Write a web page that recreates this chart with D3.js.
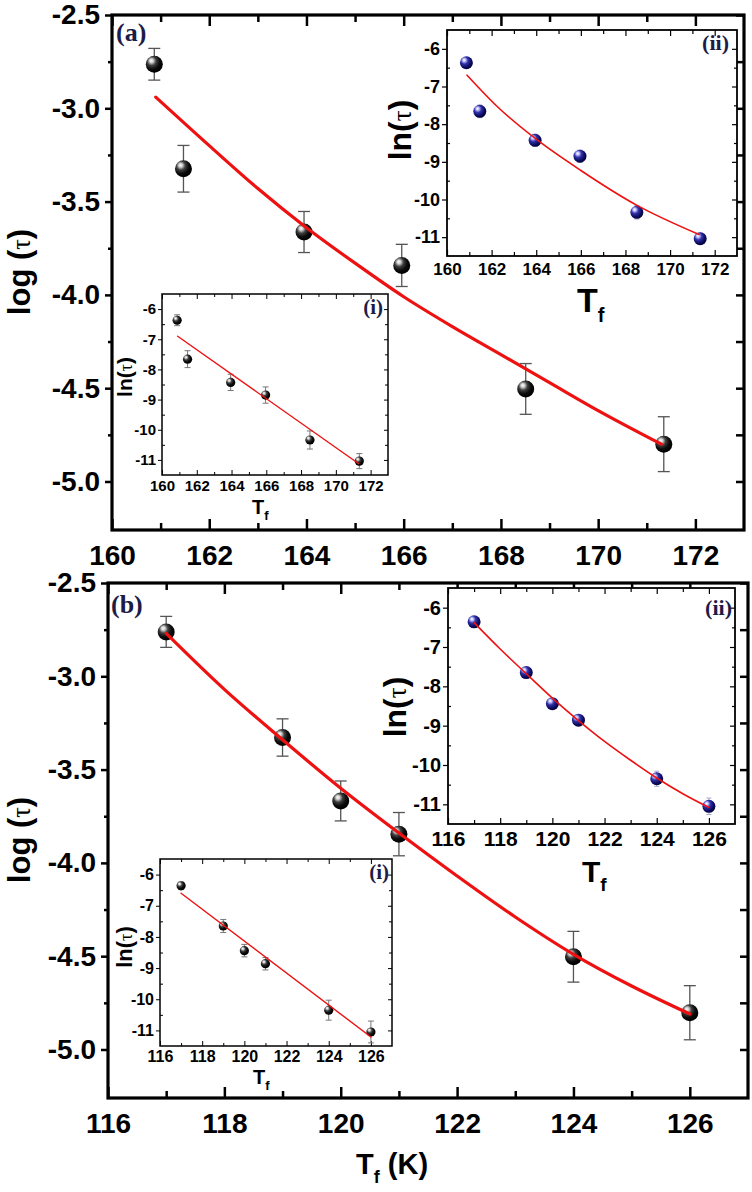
<!DOCTYPE html>
<html>
<head>
<meta charset="utf-8">
<script src="https://cdn.jsdelivr.net/npm/d3@7"></script>
<style>
  body { margin: 0; background: #fff; }
  svg { display: block; font-family: "Liberation Sans", Arial, sans-serif; }
</style>
</head>
<body>
<div class="d3_content"></div>
<script>
// ---------- data ----------
// panel (a)
const tfA      = [160.87, 161.47, 163.95, 165.96, 168.51, 171.35];
const logTauA  = [-2.764, -3.324, -3.663, -3.842, -4.504, -4.800];
const logErrA  = [0.085, 0.125, 0.11, 0.113, 0.136, 0.147];
const lnTauA   = [-6.37, -7.66, -8.43, -8.85, -10.34, -11.04];
const lnErrA   = [0.18, 0.28, 0.27, 0.27, 0.30, 0.25];
// fitted curves (a)
const fitMainA_T = [160.9, 162, 163, 164, 165, 166, 167, 168, 169, 170, 171.3];
const fitMainA_Y = [-2.94, -3.20, -3.43, -3.64, -3.83, -4.01, -4.17, -4.32, -4.47, -4.62, -4.80];
const fitLinA_T  = [160.9, 171.3];
const fitLinA_Y  = [-6.90, -11.12];
const fitLnA_T   = [160.9, 162.25, 164, 166, 168.5, 171.3];
const fitLnA_Y   = [-6.70, -7.53, -8.40, -9.23, -10.15, -10.93];

// panel (b)
const tfB      = [117, 119, 120, 121, 124, 126];
const logTauB  = [-2.762, -3.328, -3.668, -3.846, -4.503, -4.803];
const logErrB  = [0.083, 0.10, 0.107, 0.116, 0.136, 0.145];
const lnTauB   = [-6.36, -7.65, -8.44, -8.86, -10.35, -11.05];
const lnErrB   = [0.12, 0.21, 0.20, 0.20, 0.32, 0.35];
// fitted curves (b)
const fitMainB_T = [117, 118, 119, 120, 121, 122, 123, 124, 125, 126];
const fitMainB_Y = [-2.77, -3.07, -3.34, -3.60, -3.84, -4.07, -4.29, -4.49, -4.66, -4.81];
const fitLinB_T  = [117, 126];
const fitLinB_Y  = [-6.60, -11.21];
const fitLnB_T   = [117, 118, 119, 120, 121, 122, 123, 124, 125, 126];
const fitLnB_Y   = [-6.38, -7.05, -7.68, -8.30, -8.87, -9.40, -9.88, -10.33, -10.73, -11.08];

// tick labels
const xTicksA   = [160, 162, 164, 166, 168, 170, 172];
const xTicksB   = [116, 118, 120, 122, 124, 126];
const logTicks  = [-2.5, -3.0, -3.5, -4.0, -4.5, -5.0];
const lnTicks   = [-6, -7, -8, -9, -10, -11];

// ---------- layout ----------
const W = 752, H = 1192;
const logDomain = [-5.26, -2.5];
const lnDomain = [-11.5, -5.5];

const svg = d3.select(".d3_content").append("svg")
  .attr("width", W).attr("height", H);

const defs = svg.append("defs");
function ballGradient(id, stops) {
  const g = defs.append("radialGradient").attr("id", id)
    .attr("cx", "0.38").attr("cy", "0.36").attr("r", "0.62")
    .attr("fx", "0.32").attr("fy", "0.28");
  stops.forEach(s => g.append("stop").attr("offset", s[0]).attr("stop-color", s[1]));
}
ballGradient("ballK", [[0, "#ffffff"], [0.18, "#d0d0d0"], [0.42, "#404040"], [0.72, "#0c0c0c"], [1, "#000"]]);
ballGradient("ballB", [[0, "#ffffff"], [0.18, "#c4c4ff"], [0.45, "#3232a8"], [0.8, "#0c0c66"], [1, "#05053c"]]);

const noLabel = () => "";

// generic tick drawer
function addAxis(g, gen, vals, size, pad, fmt, fs, weight) {
  const a = g.append("g").call(gen.tickValues(vals).tickSize(size).tickPadding(pad).tickFormat(fmt));
  a.select(".domain").remove();
  a.selectAll("line").attr("stroke", "#000");
  a.selectAll("text").attr("fill", "#000").attr("font-size", fs)
    .attr("font-weight", weight || "bold")
    .attr("font-family", '"Liberation Sans", Arial, sans-serif');
  return a;
}

function frameAxes(box, x, y, o) {
  const g = svg.append("g");
  const bx = g.append("g").attr("transform", `translate(0,${box.b})`);
  addAxis(bx, d3.axisBottom(x), o.xMajor, -o.tMaj, o.xPad, o.xFmt, o.xFs).selectAll("line").attr("stroke-width", o.tw);
  addAxis(bx, d3.axisBottom(x), o.xMinor, -o.tMin, 0, noLabel, 1).selectAll("line").attr("stroke-width", o.tw);
  const tx = g.append("g").attr("transform", `translate(0,${box.t})`);
  addAxis(tx, d3.axisTop(x), o.xMajor, -o.tMaj, 0, noLabel, 1).selectAll("line").attr("stroke-width", o.tw);
  addAxis(tx, d3.axisTop(x), o.xMinor, -o.tMin, 0, noLabel, 1).selectAll("line").attr("stroke-width", o.tw);
  const ly = g.append("g").attr("transform", `translate(${box.l},0)`);
  addAxis(ly, d3.axisLeft(y), o.yMajor, o.lMaj, o.yPad, o.yFmt, o.yFs).selectAll("line").attr("stroke-width", o.tw);
  addAxis(ly, d3.axisLeft(y), o.yMinor, o.lMin, 0, noLabel, 1).selectAll("line").attr("stroke-width", o.tw);
  const ry = g.append("g").attr("transform", `translate(${box.r},0)`);
  addAxis(ry, d3.axisRight(y), o.yMajor, -o.rMaj, 0, noLabel, 1).selectAll("line").attr("stroke-width", o.tw);
  addAxis(ry, d3.axisRight(y), o.yMinor, -o.rMin, 0, noLabel, 1).selectAll("line").attr("stroke-width", o.tw);
  g.append("rect")
    .attr("x", box.l).attr("y", box.t)
    .attr("width", box.r - box.l).attr("height", box.b - box.t)
    .attr("fill", "none").attr("stroke", "#000").attr("stroke-width", o.fw);
}

function drawPoints(x, y, T, V, E, o) {
  const g = svg.append("g");
  const pts = d3.zip(T, V, E);
  g.selectAll("line.err").data(pts).join("line")
    .attr("x1", d => x(d[0])).attr("x2", d => x(d[0]))
    .attr("y1", d => y(d[1] + d[2])).attr("y2", d => y(d[1] - d[2]))
    .attr("stroke", o.errColor).attr("stroke-width", o.errW);
  [1, -1].forEach(s => {
    g.selectAll("line.cap" + s).data(pts).join("line")
      .attr("x1", d => x(d[0]) - o.cap).attr("x2", d => x(d[0]) + o.cap)
      .attr("y1", d => y(d[1] + s * d[2])).attr("y2", d => y(d[1] + s * d[2]))
      .attr("stroke", o.errColor).attr("stroke-width", o.errW);
  });
  g.selectAll("circle").data(pts).join("circle")
    .attr("cx", d => x(d[0])).attr("cy", d => y(d[1]))
    .attr("r", o.r).attr("fill", o.fill);
}

function drawFit(x, y, T, V, w, curve) {
  svg.append("path")
    .datum(d3.zip(T, V))
    .attr("d", d3.line().x(d => x(d[0])).y(d => y(d[1])).curve(curve))
    .attr("fill", "none").attr("stroke", "#ee1111").attr("stroke-width", w)
    .attr("stroke-linecap", "round");
}

function rotLabel(tx, ty, fs, txt) {
  const t = svg.append("text")
    .attr("transform", `translate(${tx},${ty}) rotate(-90)`)
    .attr("text-anchor", "middle").attr("font-size", fs).attr("font-weight", "bold");
  t.append("tspan").text(txt);
  t.append("tspan").attr("font-family", '"Liberation Serif", serif').attr("font-weight", "normal").attr("font-size", fs * 0.85).text("\u03c4");
  t.append("tspan").text(")");
}

function tfLabel(x0, yb, fs, fsSub, extra) {
  const t = svg.append("text").attr("x", x0).attr("y", yb)
    .attr("font-size", fs).attr("font-weight", "bold");
  t.append("tspan").text("T");
  t.append("tspan").attr("font-size", fsSub).attr("dy", fs * 0.3).text("f");
  if (extra) t.append("tspan").attr("dy", -fs * 0.3).text(extra);
}

function tag(x0, yb, fs, txt, anchor) {
  svg.append("text").attr("x", x0).attr("y", yb)
    .attr("text-anchor", anchor || "start")
    .attr("font-family", '"Liberation Serif", "Times New Roman", serif')
    .attr("font-weight", "bold").attr("font-size", fs).attr("fill", "#1c1c48")
    .text(txt);
}

const fmt1 = d => d.toFixed(1);
const fmt0 = d => String(d);

function panel(p) {
  // main plot
  const x = d3.scaleLinear(p.xDomain, [p.main.l, p.main.r]);
  const y = d3.scaleLinear(logDomain, [p.main.b, p.main.t]);
  frameAxes(p.main, x, y, {
    xMajor: p.xTicks, xMinor: d3.range(p.xTicks[0] + 1, p.xDomain[1], 2),
    yMajor: logTicks, yMinor: d3.range(-2.75, -5.1, -0.5),
    tMaj: 11, tMin: 7, lMaj: 7, lMin: 4, rMaj: 8, rMin: 8,
    xPad: 15, yPad: 5, xFmt: fmt0, yFmt: fmt1, xFs: 28, yFs: 28, tw: 2.5, fw: 3.2
  });
  drawPoints(x, y, p.T, p.logTau, p.logErr, { errColor: "#555", errW: 1.3, cap: 6, r: 8.5, fill: "url(#ballK)" });
  drawFit(x, y, p.fitMainT, p.fitMainY, 3.2, d3.curveMonotoneX);

  // inset (i): linear fit
  const bi = p.inI;
  svg.append("rect").attr("x", bi.l).attr("y", bi.t).attr("width", bi.r - bi.l).attr("height", bi.b - bi.t).attr("fill", "#fff");
  const xi = d3.scaleLinear(p.xDomain, [bi.l, bi.r]);
  const yi = d3.scaleLinear(lnDomain, [bi.b, bi.t]);
  frameAxes(bi, xi, yi, {
    xMajor: p.xTicks, xMinor: d3.range(p.xTicks[0] + 1, p.xDomain[1], 2),
    yMajor: lnTicks, yMinor: d3.range(-6.5, -11.4, -1),
    tMaj: 5, tMin: 3, lMaj: 4, lMin: -3, rMaj: 4, rMin: 3,
    xPad: 5, yPad: 2, xFmt: fmt0, yFmt: fmt0, xFs: p.fsI, yFs: p.fsI, tw: 1, fw: 1.5
  });
  drawPoints(xi, yi, p.T, p.lnTau, p.lnErrI, { errColor: "#777", errW: 1, cap: 3, r: 4.6, fill: "url(#ballK)" });
  drawFit(xi, yi, p.fitLinT, p.fitLinY, 1.4, d3.curveLinear);

  // inset (ii): curved fit
  const bj = p.inII;
  svg.append("rect").attr("x", bj.l).attr("y", bj.t).attr("width", bj.r - bj.l).attr("height", bj.b - bj.t).attr("fill", "#fff");
  const xj = d3.scaleLinear(p.xDomain, [bj.l, bj.r]);
  const yj = d3.scaleLinear(lnDomain, [bj.b, bj.t]);
  frameAxes(bj, xj, yj, {
    xMajor: p.xTicks, xMinor: d3.range(p.xTicks[0] + 1, p.xDomain[1], 2),
    yMajor: lnTicks, yMinor: d3.range(-6.5, -11.4, -1),
    tMaj: 6, tMin: 4, lMaj: 5, lMin: -3, rMaj: 5, rMin: 3,
    xPad: 7, yPad: 2, xFmt: fmt0, yFmt: fmt0, xFs: p.fsIIx, yFs: p.fsIIy, tw: 1.2, fw: 1.8
  });
  drawPoints(xj, yj, p.T, p.lnTau, p.lnErrII, { errColor: "#a8a8cc", errW: 1, cap: 2.5, r: 6.5, fill: "url(#ballB)" });
  drawFit(xj, yj, p.fitLnT, p.fitLnY, 1.6, d3.curveMonotoneX);
}

const panelA = {
  xDomain: [160, 173], xTicks: xTicksA,
  main: { l: 112, r: 744, t: 15, b: 530 },
  inI: { l: 162, r: 388, t: 294, b: 475 },
  inII: { l: 447, r: 737, t: 30, b: 256 },
  T: tfA, logTau: logTauA, logErr: logErrA, lnTau: lnTauA, lnErrI: lnErrA, lnErrII: lnErrA.map(e => e * 0.6),
  fitMainT: fitMainA_T, fitMainY: fitMainA_Y,
  fitLinT: fitLinA_T, fitLinY: fitLinA_Y,
  fitLnT: fitLnA_T, fitLnY: fitLnA_Y,
  fsI: 15, fsIIx: 17, fsIIy: 18
};
const panelB = {
  xDomain: [116, 127], xTicks: xTicksB,
  main: { l: 108, r: 748, t: 583, b: 1098 },
  inI: { l: 160, r: 392, t: 859, b: 1046 },
  inII: { l: 448, r: 735, t: 588, b: 824 },
  T: tfB, logTau: logTauB, logErr: logErrB, lnTau: lnTauB, lnErrI: lnErrB, lnErrII: lnErrB.map(e => e * 0.6),
  fitMainT: fitMainB_T, fitMainY: fitMainB_Y,
  fitLinT: fitLinB_T, fitLinY: fitLinB_Y,
  fitLnT: fitLnB_T, fitLnY: fitLnB_Y,
  fsI: 16, fsIIx: 21, fsIIy: 20
};

panel(panelA);
panel(panelB);

// axis titles
rotLabel(30, 272, 31, "log (");
rotLabel(30, 840, 31, "log (");
rotLabel(411, 130, 32, "ln(");
rotLabel(406, 707, 32, "ln(");
rotLabel(132, 377, 21, "ln(");
rotLabel(132, 947, 22, "ln(");

tfLabel(577, 312, 34, 20);
tfLabel(582, 882, 30, 19);
tfLabel(252, 514, 20, 13);
tfLabel(253, 1084, 20, 13);
tfLabel(356, 1174, 29, 18, " (K)");

// panel tags
tag(116, 41, 26, "(a)");
tag(111, 613, 26, "(b)");
tag(729, 50, 22, "(ii)", "end");
tag(732, 615, 22, "(ii)", "end");
tag(383, 314, 21, "(i)", "end");
tag(389, 879, 21, "(i)", "end");
</script>
</body>
</html>
